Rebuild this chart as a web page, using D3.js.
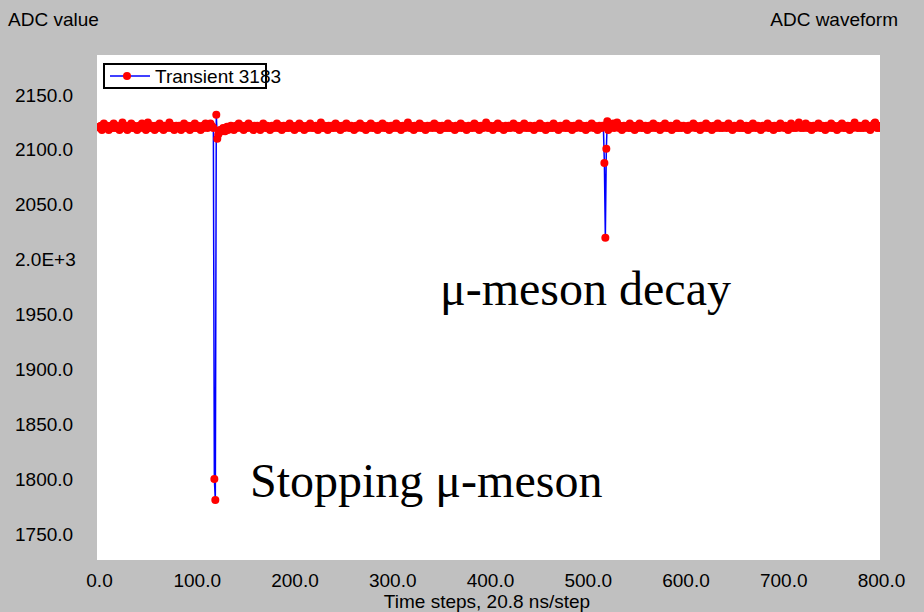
<!DOCTYPE html>
<html>
<head>
<meta charset="utf-8">
<script src="https://cdn.jsdelivr.net/npm/d3@7"></script>
<style>
  html, body { margin: 0; padding: 0; background: #c0c0c0; }
  svg { display: block; }
</style>
</head>
<body>
<svg id="chart"></svg>
<script>
// ADC samples, one per time step
const adc = [
  2121,2120,2122,2118,2121,2124,2120,2121,2122,2120,2118,2121,2122,2121,2120,2124,2121,2120,2122,2121,
  2120,2118,2121,2122,2125,2121,2120,2122,2121,2118,2120,2122,2121,2124,2120,2121,2122,2120,2121,2118,
  2121,2122,2120,2121,2124,2121,2120,2122,2118,2121,2125,2122,2120,2121,2122,2120,2121,2118,2122,2121,
  2120,2122,2124,2121,2120,2121,2118,2122,2121,2120,2122,2121,2125,2120,2121,2122,2120,2118,2121,2122,
  2120,2121,2122,2121,2118,2120,2122,2124,2121,2120,2121,2122,2120,2118,2121,2122,2121,2120,2124,2121,
  2120,2122,2121,2120,2118,2121,2122,2120,2121,2124,2121,2120,2122,2121,2124,2122,2121,2120,1800,1781,
  2132,2110,2114,2117,2118,2118,2117,2120,2118,2117,2120,2121,2118,2120,2121,2122,2120,2121,2118,2121,
  2122,2120,2121,2124,2121,2120,2122,2121,2118,2120,2122,2121,2120,2124,2121,2122,2120,2121,2118,2122,
  2121,2120,2122,2121,2120,2118,2121,2122,2124,2121,2120,2121,2122,2120,2121,2118,2120,2122,2121,2120,
  2122,2121,2124,2120,2121,2122,2120,2118,2121,2122,2121,2120,2122,2121,2120,2124,2121,2122,2120,2121,
  2118,2121,2122,2120,2121,2124,2121,2120,2122,2121,2118,2120,2121,2122,2120,2121,2124,2122,2120,2121,
  2121,2120,2122,2121,2118,2121,2122,2125,2121,2120,2121,2122,2120,2121,2118,2122,2121,2120,2122,2121,
  2120,2121,2124,2121,2120,2122,2121,2118,2120,2122,2121,2120,2121,2124,2122,2121,2120,2121,2122,2120,
  2121,2118,2121,2122,2120,2121,2122,2124,2121,2120,2122,2121,2120,2118,2121,2122,2120,2121,2124,2121,
  2120,2122,2121,2120,2121,2118,2122,2121,2120,2122,2124,2121,2120,2121,2122,2120,2121,2118,2121,2122,
  2121,2120,2122,2121,2124,2120,2121,2122,2120,2118,2121,2122,2121,2120,2122,2121,2125,2121,2120,2122,
  2120,2121,2118,2122,2121,2120,2122,2121,2124,2120,2121,2122,2120,2121,2118,2121,2122,2120,2121,2122,
  2121,2120,2122,2124,2121,2120,2121,2122,2120,2118,2121,2122,2121,2120,2122,2121,2120,2124,2121,2120,
  2122,2121,2120,2121,2118,2122,2121,2120,2122,2121,2124,2120,2121,2122,2121,2120,2118,2121,2122,2120,
  2121,2122,2120,2121,2124,2121,2120,2122,2121,2118,2120,2122,2121,2120,2121,2122,2125,2121,2120,2121,
  2122,2120,2121,2118,2121,2122,2120,2121,2124,2121,2120,2122,2121,2120,2118,2121,2122,2121,2120,2122,
  2121,2120,2122,2121,2124,2121,2120,2121,2122,2120,2118,2121,2122,2120,2121,2124,2121,2120,2122,2121,
  2120,2122,2121,2120,2121,2118,2122,2121,2120,2122,2121,2124,2120,2121,2122,2120,2121,2118,2121,2122,
  2121,2120,2122,2121,2120,2124,2121,2122,2120,2121,2118,2121,2122,2120,2121,2122,2121,2120,2124,2121,
  2120,2121,2122,2120,2118,2121,2122,2121,2120,2122,2121,2124,2121,2120,2121,2122,2120,2121,2118,2122,
  2121,2120,2122,2121,2124,2121,2120,2122,2121,2120,2118,2121,2122,2121,2120,2122,2121,2088,2020,2101,
  2126,2118,2121,2120,2122,2121,2124,2120,2121,2122,2125,2121,2120,2122,2121,2118,2121,2122,2120,2121,
  2122,2121,2120,2124,2121,2120,2122,2121,2118,2121,2122,2120,2121,2124,2121,2120,2122,2121,2120,2122,
  2121,2118,2120,2122,2121,2120,2121,2124,2122,2120,2121,2122,2121,2120,2118,2121,2122,2120,2121,2124,
  2121,2120,2122,2121,2120,2122,2118,2121,2122,2121,2120,2124,2121,2120,2121,2122,2120,2121,2122,2121,
  2120,2121,2118,2122,2121,2120,2122,2121,2124,2121,2120,2122,2121,2120,2121,2118,2122,2121,2120,2122,
  2121,2124,2120,2121,2122,2120,2121,2118,2121,2122,2121,2120,2122,2124,2121,2120,2121,2122,2120,2121,
  2122,2121,2120,2121,2124,2122,2120,2121,2118,2121,2122,2120,2121,2122,2121,2120,2124,2121,2120,2122,
  2121,2120,2122,2121,2118,2120,2122,2121,2120,2124,2121,2122,2120,2121,2122,2121,2120,2118,2121,2122,
  2120,2121,2122,2121,2124,2120,2121,2122,2120,2121,2118,2122,2121,2120,2122,2121,2120,2124,2121,2122,
  2121,2120,2122,2121,2120,2118,2121,2122,2124,2121,2120,2121,2122,2120,2121,2122,2125,2121,2120,2122,
  2121,2120,2122,2124,2121,2120,2121,2122,2120,2118,2121,2122,2121,2120,2122,2121,2124,2121,2120,2121,
  2122,2120,2121,2118,2122,2121,2120,2122,2121,2124,2120,2121,2122,2121,2120,2118,2121,2122,2120,2121,
  2124,2121,2120,2122,2121,2120,2122,2121,2118,2121,2122,2120,2121,2125,2122,2121,2120,2121,2122,2120,
  2121,2122,2120,2121,2124,2121,2120,2122,2121,2118,2120,2122,2121,2124,2125,2121,2120,2122,2121,2120
];

const yTicks = [2150, 2100, 2050, 2000, 1950, 1900, 1850, 1800, 1750];
const yTickLabels = ["2150.0","2100.0","2050.0","2.0E+3","1950.0","1900.0","1850.0","1800.0","1750.0"];
const xTicks = [0, 100, 200, 300, 400, 500, 600, 700, 800];
const xTickLabels = ["0.0","100.0","200.0","300.0","400.0","500.0","600.0","700.0","800.0"];
const seriesName = "Transient 3183";
const notes = [
  {text: "\u03bc-meson decay", x: 440, y: 305},
  {text: "Stopping \u03bc-meson", x: 250, y: 497}
];

const width = 924, height = 612;
const plot = {left: 97, right: 880, top: 55, bottom: 560};
const sans = "'Liberation Sans', Arial, sans-serif";

const svg = d3.select('#chart').attr('width', width).attr('height', height);

svg.append('rect').attr('width', width).attr('height', height).attr('fill', '#c0c0c0');
svg.append('rect')
  .attr('x', plot.left).attr('y', plot.top)
  .attr('width', plot.right - plot.left).attr('height', plot.bottom - plot.top)
  .attr('fill', '#fff');

const x = d3.scaleLinear().domain([0, 800]).range([99, 881]);
const y = d3.scaleLinear().domain([1726.3, 2186.4]).range([plot.bottom, plot.top]);

svg.append('clipPath').attr('id', 'clip')
  .append('rect')
  .attr('x', plot.left).attr('y', plot.top)
  .attr('width', plot.right - plot.left).attr('height', plot.bottom - plot.top);

const data = adc.map((v, i) => ({t: i, v}));
const g = svg.append('g').attr('clip-path', 'url(#clip)');

g.append('path')
  .datum(data)
  .attr('fill', 'none')
  .attr('stroke', '#0000ff')
  .attr('stroke-width', 1.5)
  .attr('d', d3.line().x(d => x(d.t)).y(d => y(d.v)));

g.selectAll('circle')
  .data(data)
  .join('circle')
  .attr('cx', d => x(d.t))
  .attr('cy', d => y(d.v))
  .attr('r', 4)
  .attr('fill', '#ff0000');

// axes: labels only, no lines
const yAxis = d3.axisLeft(y).tickValues(yTicks)
  .tickFormat((d, i) => yTickLabels[i]).tickSize(0).tickPadding(0);
svg.append('g')
  .attr('transform', 'translate(15,0)')
  .call(yAxis)
  .call(a => a.select('.domain').remove())
  .call(a => a.selectAll('text')
    .attr('x', 0).attr('text-anchor', 'start')
    .attr('font-family', sans).attr('font-size', 19).attr('fill', '#000'));

const xAxis = d3.axisBottom(x).tickValues(xTicks)
  .tickFormat((d, i) => xTickLabels[i]).tickSize(0).tickPadding(14);
svg.append('g')
  .attr('transform', `translate(0,${plot.bottom})`)
  .call(xAxis)
  .call(a => a.select('.domain').remove())
  .call(a => a.selectAll('text')
    .attr('font-family', sans).attr('font-size', 19).attr('fill', '#000'));

// titles
svg.append('text').attr('x', 8).attr('y', 26)
  .attr('font-family', sans).attr('font-size', 19).text('ADC value');
svg.append('text').attr('x', 898).attr('y', 26).attr('text-anchor', 'end')
  .attr('font-family', sans).attr('font-size', 19).text('ADC waveform');
svg.append('text').attr('x', 487).attr('y', 608).attr('text-anchor', 'middle')
  .attr('font-family', sans).attr('font-size', 19).text('Time steps, 20.8 ns/step');

// legend
const lg = svg.append('g');
lg.append('rect').attr('x', 104).attr('y', 64).attr('width', 162).attr('height', 24)
  .attr('fill', 'none').attr('stroke', '#000').attr('stroke-width', 2);
lg.append('line').attr('x1', 110).attr('x2', 150).attr('y1', 76).attr('y2', 76)
  .attr('stroke', '#0000ff').attr('stroke-width', 1.5);
lg.append('circle').attr('cx', 127).attr('cy', 76).attr('r', 4).attr('fill', '#ff0000');
lg.append('text').attr('x', 155).attr('y', 83)
  .attr('font-family', sans).attr('font-size', 19).text(seriesName);

// annotations
svg.selectAll('text.note')
  .data(notes)
  .join('text')
  .attr('class', 'note')
  .attr('x', d => d.x).attr('y', d => d.y)
  .attr('font-family', "'Liberation Serif', 'Times New Roman', serif")
  .attr('font-size', 48)
  .text(d => d.text);
</script>
</body>
</html>
